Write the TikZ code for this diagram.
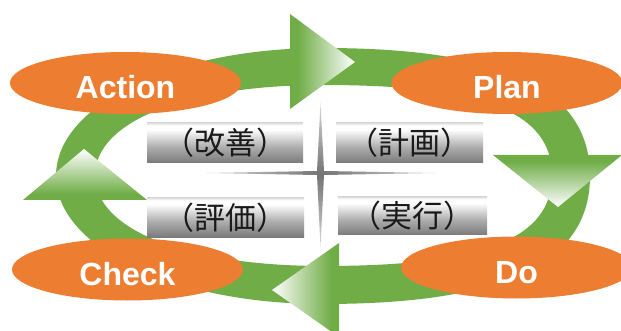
\documentclass[tikz,border=0pt]{standalone}
\usepackage{fontspec}
\newfontfamily\labfont{Liberation Sans}
\newfontfamily\jpfont{Noto Sans CJK JP}
\usetikzlibrary{shapes.geometric}
\definecolor{pgreen}{HTML}{70AD47}
\definecolor{porange}{HTML}{ED7D31}
\definecolor{ptext}{HTML}{1A1A1A}
\pgfdeclarehorizontalshading{greenfade}{100bp}{color(0bp)=(pgreen); color(25bp)=(pgreen); color(31bp)=(pgreen); color(75bp)=(white); color(100bp)=(white)}
\pgfdeclareverticalshading{boxshade}{100bp}{color(0bp)=(black!52); color(25bp)=(black!52); color(45bp)=(black!32); color(67bp)=(white); color(72bp)=(white); color(75bp)=(black!12); color(100bp)=(black!12)}
\tikzset{
  stage/.style={ellipse, fill=porange, inner sep=0pt, minimum width=231pt, minimum height=62pt,
    text=white, font=\labfont\bfseries\fontsize{32}{36}\selectfont, text height=32pt, text depth=0pt},
  tag/.style={rectangle, inner sep=0pt, shading=boxshade, text=ptext,
    font=\jpfont\fontsize{31}{35}\selectfont},
  headfill/.style={shading=greenfade},
}
\begin{document}
\begin{tikzpicture}[x=1pt,y=-1pt]
\clip (0,0) rectangle (621,331);
\fill[white] (0,0) rectangle (621,331);
% ring
\fill[pgreen, even odd rule]
  (590,176) .. controls (590,263) and (504.6,304) .. (323,304)
  .. controls (173.5,304) and (56,247.7) .. (56,176)
  .. controls (56,104.3) and (173.5,48) .. (323,48)
  .. controls (504.6,48) and (590,89) .. (590,176) -- cycle
  (552,175.5) .. controls (552,238.9) and (483.5,266) .. (323.5,266)
  .. controls (186.5,266) and (95,229.8) .. (95,175.5)
  .. controls (95,121.2) and (186.5,85) .. (323.5,85)
  .. controls (483.5,85) and (552,112.1) .. (552,175.5) -- cycle;
% arrowheads
\shade[headfill] (290,14) -- (355,62) -- (290,109) -- cycle;
\shade[headfill, shading angle=-90] (493,155) -- (622,155) -- (558,207) -- cycle;
\shade[headfill, shading angle=180] (272,290) -- (339,243) -- (339,337) -- cycle;
\shade[headfill, shading angle=90] (84,149) -- (147,200) -- (23,200) -- cycle;
% stages
\node[stage] (act) at (125.5,83) {Action};
\node[stage] (plan) at (507,83) {Plan};
\node[stage] (chk) at (127.5,269.5) {Check};
\node[stage] (do) at (516.5,267.5) {Do};
% boxes
\node[tag, minimum width=156pt, minimum height=40pt] (kaizen) at (225,143) {（改善）};
\node[tag, minimum width=147pt, minimum height=40pt] (keikaku) at (409.5,143) {（計画）};
\node[tag, minimum width=157pt, minimum height=39pt] (hyouka) at (225.5,217.5) {（評価）};
\node[tag, minimum width=149pt, minimum height=38pt] (jikkou) at (412.5,216) {（実行）};
% cross
\shade[inner color=black!55, outer color=black!15]
  (206,173) -- (317,171) -- (320.5,103) -- (324,171) -- (436,173)
  -- (324,175) -- (320.5,247) -- (317,175) -- cycle;
\end{tikzpicture}
\end{document}
